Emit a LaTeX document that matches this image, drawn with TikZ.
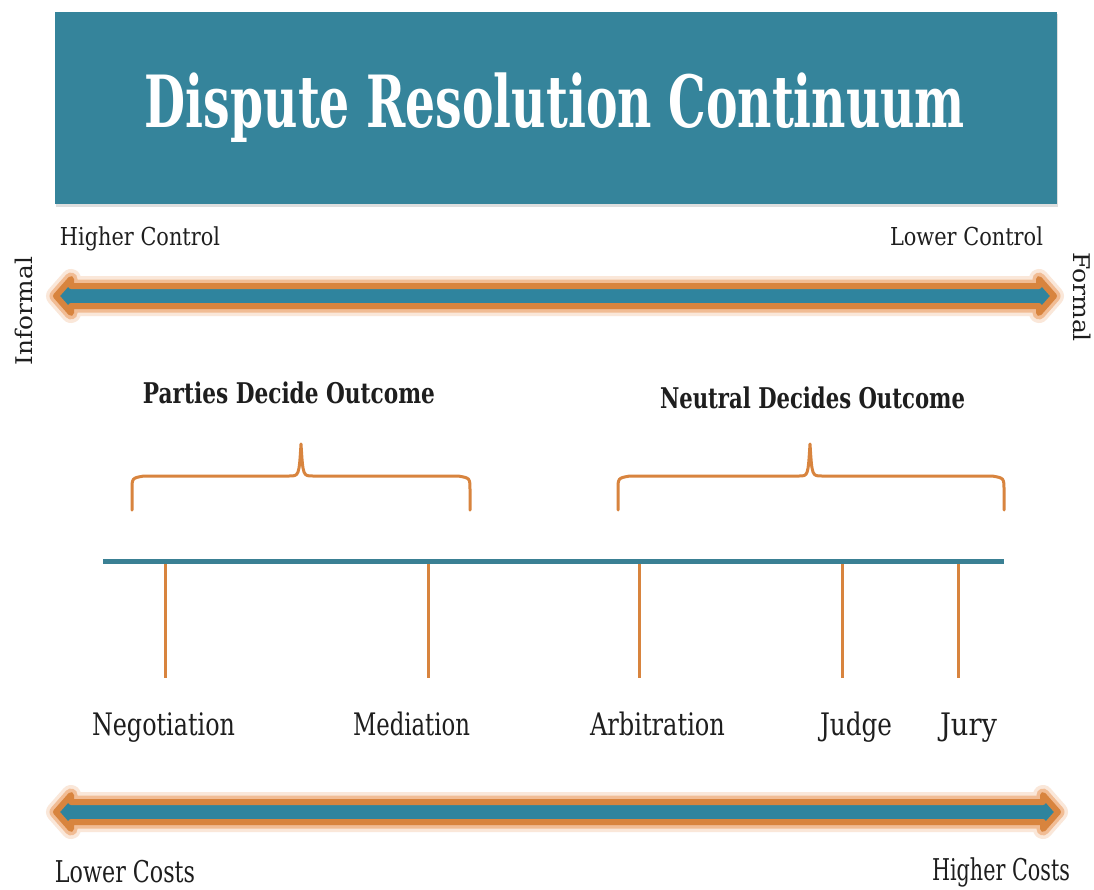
\documentclass[tikz,border=0pt]{standalone}
\usepackage{fontspec}
\setmainfont{DejaVu Serif}
\usepackage{graphicx}
\definecolor{bannerteal}{HTML}{35849B}
\definecolor{arrteal}{HTML}{2F849E}
\definecolor{lineteal}{HTML}{3A8094}
\definecolor{orng}{HTML}{D8843E}
\definecolor{orngglow}{HTML}{EFB283}
\definecolor{txt}{HTML}{1E1E1E}
\newcommand{\fitw}[2]{\resizebox{#1pt}{\height}{#2}}
\newcommand{\ArrowPath}[3]{(#1,#3) -- ++(15,-17) -- ++(0,7) -- ++(#2,0) -- ++(0,-7) -- ++(15,17)
    -- ++(-15,17) -- ++(0,-7) -- ++(-#2,0) -- ++(0,7) -- cycle}
\newcommand{\DblArrow}[3]{%
  \draw[orngglow, line width=20pt, line join=round, opacity=0.3] \ArrowPath{#1}{#2}{#3};
  \draw[orngglow, line width=13pt, line join=round, opacity=0.8] \ArrowPath{#1}{#2}{#3};
  \draw[orng, line width=6pt, line join=round, fill=arrteal] \ArrowPath{#1}{#2}{#3};}
\begin{document}
\begin{tikzpicture}[x=1pt, y=-1pt,
  lbl/.style={inner sep=0pt, anchor=base, text=txt, font=\fontsize{31}{31}\selectfont},
  small/.style={inner sep=0pt, anchor=base, text=txt, font=\fontsize{24.7}{25}\selectfont},
  head/.style={inner sep=0pt, anchor=base, text=txt, font=\bfseries\fontsize{28.5}{29}\selectfont},
  cost/.style={inner sep=0pt, anchor=base, text=txt, font=\fontsize{30}{30}\selectfont},
  side/.style={inner sep=0pt, anchor=base, text=txt, font=\fontsize{23}{23}\selectfont},
  bracestyle/.style={draw=orng, line width=3pt, line cap=round, line join=round},
  tickstyle/.style={draw=orng, line width=3pt},
  baseline/.style={draw=lineteal, line width=5pt}]
\fill[white] (0,0) rectangle (1094,889);
\useasboundingbox (0,0) rectangle (1094,889);

% banner
\fill[black!25, opacity=0.5] (56,14) rectangle (1058,207);
\node (banner) [fill=bannerteal, inner sep=0pt, minimum width=1002pt, minimum height=192pt] at (556,108) {};
\node (title) [inner sep=0pt, anchor=base, text=white, font=\bfseries\fontsize{72}{72}\selectfont] at (555,127) {\fitw{820}{Dispute Resolution Continuum}};

% control labels
\node (hc) [small] at (140,245) {\fitw{160}{Higher Control}};
\node (lc) [small] at (966.5,245) {\fitw{153}{Lower Control}};
\node (inf) [side, rotate=90] at (32,311) {\fitw{108}{Informal}};
\node (form) [side, rotate=-90] at (1073,297) {\fitw{90}{Formal}};

% arrows
\DblArrow{56}{968}{296}
\DblArrow{56}{972}{812}

% headings
\node (parties) [head] at (289,403) {\fitw{292}{Parties Decide Outcome}};
\node (neutral) [head] at (812.5,408) {\fitw{305}{Neutral Decides Outcome}};

% braces
\draw[bracestyle] (132,510) -- (132,490) .. controls (132,478) .. (144,476) -- (289,476)
  .. controls (299,476) .. (301,444) .. controls (303,476) .. (313,476) -- (458,476)
  .. controls (470,478) .. (470,490) -- (470,510);
\draw[bracestyle] (618,510) -- (618,490) .. controls (618,478) .. (630,476) -- (799,476)
  .. controls (808,476) .. (810,444) .. controls (812,476) .. (822,476) -- (992,476)
  .. controls (1004,478) .. (1004,490) -- (1004,510);

% continuum line and ticks
\coordinate (L0) at (103,561);
\coordinate (L1) at (1004,561);
\coordinate (t1) at (165,563); \coordinate (t1b) at (165,678);
\coordinate (t2) at (428,563); \coordinate (t2b) at (428,678);
\coordinate (t3) at (639,563); \coordinate (t3b) at (639,678);
\coordinate (t4) at (842,563); \coordinate (t4b) at (842,678);
\coordinate (t5) at (958,563); \coordinate (t5b) at (958,678);
\draw[tickstyle] (t1) -- (t1b);
\draw[tickstyle] (t2) -- (t2b);
\draw[tickstyle] (t3) -- (t3b);
\draw[tickstyle] (t4) -- (t4b);
\draw[tickstyle] (t5) -- (t5b);
\draw[baseline] (L0) -- (L1);

% process labels
\node (neg) [lbl] at (163.5,735) {\fitw{143}{Negotiation}};
\node (med) [lbl] at (411.5,735) {\fitw{117}{Mediation}};
\node (arb) [lbl] at (657.5,735) {\fitw{135}{Arbitration}};
\node (judge) [lbl] at (856,735) {\fitw{72}{Judge}};
\node (jury) [lbl] at (968.5,735) {\fitw{57}{Jury}};

% costs
\node (lcost) [cost] at (125,882) {\fitw{140}{Lower Costs}};
\node (hcost) [cost] at (1001,880) {\fitw{138}{Higher Costs}};
\end{tikzpicture}
\end{document}
